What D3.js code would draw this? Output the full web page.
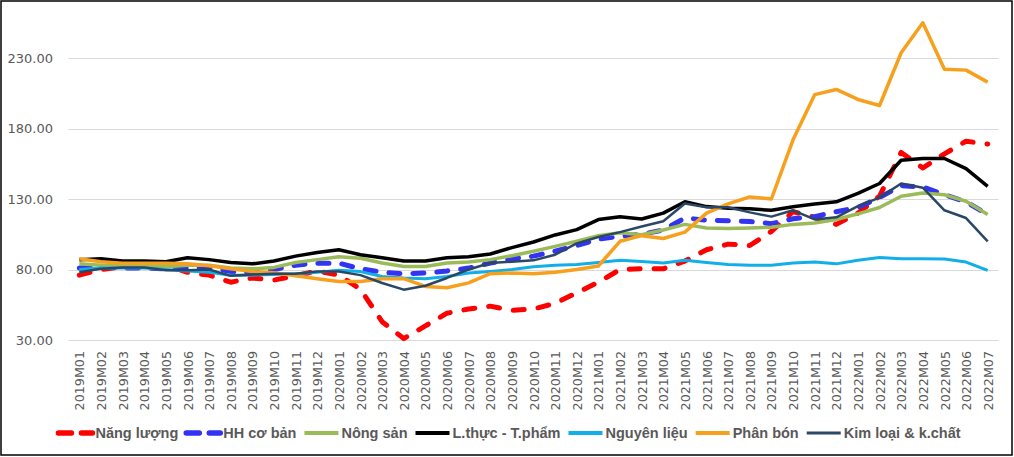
<!DOCTYPE html>
<html>
<head>
<meta charset="utf-8">
<script src="https://cdn.jsdelivr.net/npm/d3@7"></script>
<style>
  html, body { margin: 0; padding: 0; background: #fff; }
  svg { display: block; }
</style>
</head>
<body>
<svg id="chart" width="1014" height="457"></svg>
<script>
const months = [
  "2019M01","2019M02","2019M03","2019M04","2019M05","2019M06","2019M07","2019M08","2019M09","2019M10","2019M11","2019M12",
  "2020M01","2020M02","2020M03","2020M04","2020M05","2020M06","2020M07","2020M08","2020M09","2020M10","2020M11","2020M12",
  "2021M01","2021M02","2021M03","2021M04","2021M05","2021M06","2021M07","2021M08","2021M09","2021M10","2021M11","2021M12",
  "2022M01","2022M02","2022M03","2022M04","2022M05","2022M06","2022M07"
];
const yTicks = [30, 80, 130, 180, 230];

const seriesNames = ["Năng lượng","HH cơ bản","Nông sản","L.thực - T.phẩm","Nguyên liệu","Phân bón","Kim loại & k.chất"];

const nangLuong = [
  76, 80, 82, 85, 83, 78, 76, 71, 74, 72.5, 75.5, 79,
  76, 66, 43, 31, 40, 49, 52, 54, 51, 52, 56, 63.5,
  71, 80, 80.5, 80.5, 86, 94, 98, 97, 107, 121, 117, 112,
  120, 132, 163, 152, 162, 171, 169
];
const hhCoBan = [
  81, 82, 81, 81, 80.5, 81, 81.5, 78.5, 77.5, 80, 83, 84.5,
  84.5, 80.5, 78, 77, 77.5, 79, 81, 84.5, 87.5, 89.5, 93, 97,
  101.5, 103.5, 105, 108, 116.5, 115, 114.5, 114, 112.5, 116, 117.5, 121,
  124, 131, 139.5, 138.5, 133, 128, 119
];
const nongSan = [
  84, 83, 83, 83, 82, 83, 83, 81, 80.5, 81.5, 85, 87,
  89, 88, 84.6, 82.2, 82.2, 84.6, 85.3, 87, 89.8, 92.9, 96.4, 100,
  104, 106, 104.7, 108, 112, 109.5, 109, 109.5, 110, 112, 113, 115.5,
  119.5, 124, 132, 134.3, 133, 128.4, 119
];
const lThuc = [
  87, 87.6, 86, 86, 85.5, 88.4, 87, 85, 84, 86, 89.5, 92,
  94, 90.5, 88.4, 86, 86, 88.4, 89, 91, 95.5, 99.5, 104.5, 108.3,
  115.4, 117.4, 115.8, 120, 128, 124.6, 123.5, 123, 122, 124.5, 126.5, 128,
  134, 141, 157.5, 158.7, 158.7, 151.5, 139
];
const nguyenLieu = [
  80, 81, 81, 81, 80, 79, 78, 76, 76, 76.5, 77, 78,
  79.5, 78.5, 75, 74, 73.5, 75, 77.5, 78.6, 80, 82, 83, 83.5,
  85, 86.5, 85.7, 84.6, 86.5, 85, 83.5, 83, 83, 84.6, 85.3, 84,
  86.5, 88.5, 87.7, 87.7, 87.4, 85.3, 79.4
];
const phanBon = [
  87.7, 85.5, 84.5, 84.5, 84.5, 84, 82.6, 80.5, 78.5, 77.7, 75.5, 73.5,
  71.5, 71.5, 73.5, 73.5, 68, 67, 70.5, 77, 77.5, 77, 78, 80,
  82.5, 100, 104, 102, 106.5, 120, 126.5, 131.5, 130, 172, 204, 207.7,
  200.6, 196.3, 233.7, 255, 222, 221.4, 212.9
];
const kimLoai = [
  78, 80.5, 81.5, 81.5, 79.5, 79.5, 80, 75.5, 76.5, 77, 77, 78.5,
  78.6, 76, 70.4, 65.7, 68.5, 74, 80, 84.6, 85.5, 86.5, 90.5, 98.5,
  103, 106.5, 110.5, 114.2, 126.8, 124.2, 124.2, 120.5, 117.5, 122, 115.5, 117,
  125, 131, 141, 138, 122, 116.5, 100
];

const seriesValues = [nangLuong, hhCoBan, nongSan, lThuc, nguyenLieu, phanBon, kimLoai];
const seriesColors = ["#FF0000", "#3333F2", "#9BBB59", "#000000", "#12AEE8", "#F7A01E", "#2B4766"];
const seriesWidths = [5, 5, 3.5, 3.5, 3, 3.5, 2.5];
const seriesDash = ["11 14", "11 13", null, null, null, null, null];

const svg = d3.select("#chart");
const W = 1014, H = 457;

// outer border
svg.append("rect").attr("x", 1).attr("y", 1).attr("width", W - 3).attr("height", H - 3)
  .attr("fill", "#fff").attr("stroke", "#000").attr("stroke-width", 1.5);

const x = d3.scalePoint().domain(months).range([68.5, 998.5]).padding(0.5);
const y = d3.scaleLinear().domain([30, 230]).range([340, 58]);

// gridlines
svg.append("g").selectAll("line").data(yTicks).join("line")
  .attr("x1", 68.5).attr("x2", 998.5)
  .attr("y1", d => Math.round(y(d)) + 0.5).attr("y2", d => Math.round(y(d)) + 0.5)
  .attr("stroke", "#D9D9D9").attr("stroke-width", 1);

// y axis labels
const yAxis = d3.axisLeft(y).tickValues(yTicks).tickFormat(d3.format(".2f")).tickSize(0).tickPadding(0);
const gy = svg.append("g").attr("transform", "translate(53,0)").call(yAxis);
gy.select(".domain").remove();
gy.selectAll("text").attr("font-family", "DejaVu Sans").attr("font-size", 13).attr("fill", "#595959");

// x axis labels
const xAxis = d3.axisBottom(x).tickSize(0).tickPadding(0);
const gx = svg.append("g").attr("transform", "translate(0,351)").call(xAxis);
gx.select(".domain").remove();
gx.selectAll("text")
  .attr("font-family", "DejaVu Sans").attr("font-size", 12.7).attr("fill", "#595959")
  .attr("text-anchor", "end")
  .attr("transform", "rotate(-90)")
  .attr("x", 0).attr("y", 0).attr("dy", "0.36em");

// lines
const line = d3.line().x((d, i) => x(months[i])).y(d => y(d)).curve(d3.curveLinear);
const gl = svg.append("g");
seriesValues.forEach((vals, k) => {
  gl.append("path").datum(vals)
    .attr("d", line)
    .attr("fill", "none")
    .attr("stroke", seriesColors[k])
    .attr("stroke-width", seriesWidths[k])
    .attr("stroke-linejoin", "round")
    .attr("stroke-linecap", seriesDash[k] ? "round" : "butt")
    .attr("stroke-dasharray", seriesDash[k]);
});

// legend
const lg = svg.append("g");
let cx = 0;
seriesNames.forEach((name, k) => {
  const g = lg.append("g");
  const mw = 38;
  g.append("line").attr("x1", 2).attr("x2", mw - 2).attr("y1", 0).attr("y2", 0)
    .attr("stroke", seriesColors[k])
    .attr("stroke-width", seriesDash[k] ? 5.5 : (k === 6 ? 3 : 4))
    .attr("stroke-linecap", seriesDash[k] ? "round" : "butt")
    .attr("stroke-dasharray", seriesDash[k] ? "13 10" : null);
  const t = g.append("text").attr("x", mw + 1).attr("y", 0).attr("dy", "0.36em")
    .attr("font-family", "Liberation Sans").attr("font-weight", "bold").attr("font-size", 14.5)
    .attr("fill", "#595959").text(name);
  const tw = t.node().getComputedTextLength();
  g.attr("transform", `translate(${cx},433)`);
  cx += mw + 1 + tw + 6;
});
const total = cx - 6;
lg.attr("transform", `translate(${508.5 - total / 2},0)`);
</script>
</body>
</html>
